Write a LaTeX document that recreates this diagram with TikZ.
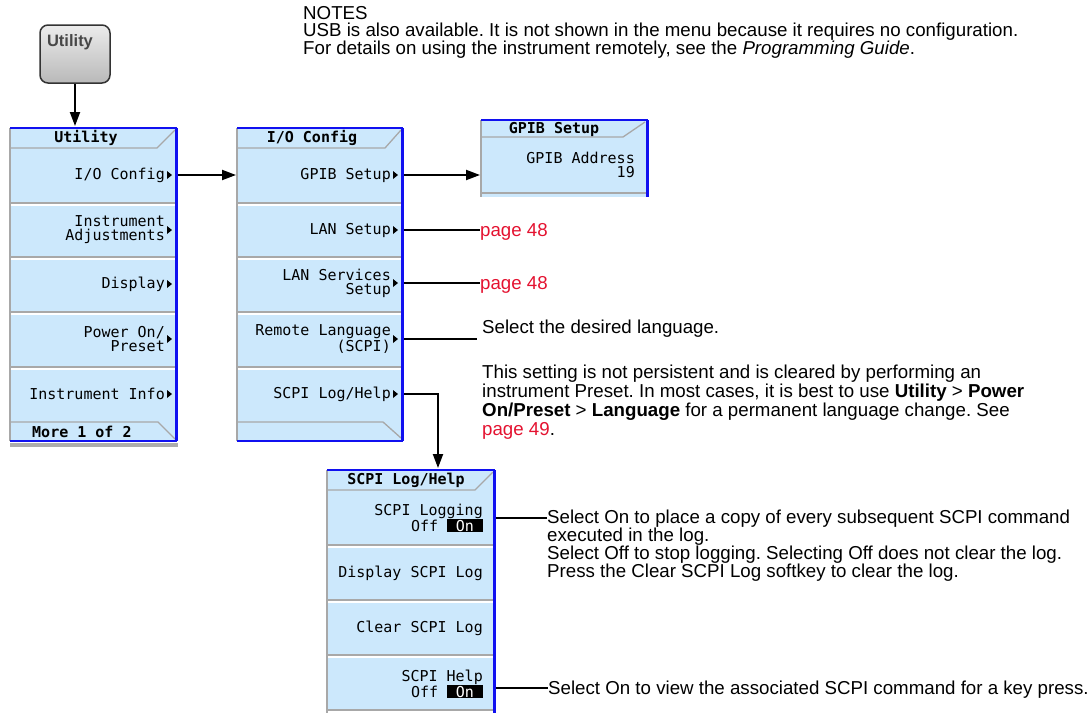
\documentclass[tikz,border=0pt]{standalone}
\usepackage{fontspec}
\setmainfont{Liberation Sans}
\newfontfamily\keyfont{DejaVu Sans Mono}
\usetikzlibrary{arrows.meta}
\frenchspacing

\definecolor{keyblue}{RGB}{204,232,252}
\definecolor{frameblue}{RGB}{16,16,240}
\definecolor{sepgray}{RGB}{168,168,168}
\definecolor{refred}{RGB}{228,18,48}

\newcommand{\onbox}{{\setlength{\fboxsep}{0.8pt}\colorbox{black}{\textcolor{white}{\hspace{8pt}On\hspace{8pt}}}}}

\tikzset{
  keytext/.style={font=\keyfont\fontsize{15}{14}\selectfont, align=right, inner sep=0pt, anchor=east},
  titletext/.style={font=\keyfont\bfseries\fontsize{15}{14}\selectfont, inner sep=0pt},
  notetext/.style={font=\fontsize{18.7}{18}\selectfont, align=left, inner sep=0pt, anchor=north west},
  reftext/.style={font=\fontsize{18.7}{18}\selectfont, text=refred, inner sep=0pt, anchor=base west},
  conn/.style={line width=2},
  arr/.style={line width=2, -{Triangle[length=14pt,width=10pt]}},
  sep/.style={sepgray, line width=1.3},
  hilite/.style={white, line width=1.3},
}

\begin{document}
\begin{tikzpicture}[x=1pt,y=-1pt]
    \useasboundingbox (0,0) rectangle (1090,713);

    % front panel key
    \node[draw=black!80, line width=1.5, rounded corners=8, top color=gray!15, bottom color=gray!55,
          minimum width=70, minimum height=58, inner sep=0pt] (btn) at (75,54) {};
    \node[font=\bfseries\fontsize{16.5}{16.5}\selectfont, text=black!72, inner sep=0pt] (btn-label) at (70,42) {Utility};

    % Utility menu
    \fill[keyblue] (10,128) rectangle (177,441);
    \foreach \y in {203,257,312,367}{
        \draw[sep] (11,\y) -- (176,\y);
        \draw[hilite] (11,\y+2) -- (175,\y+2);
    }
    \draw[sep] (11,148) -- (157,148) -- (175,130);
    \draw[sep] (11,422) -- (158,422) -- (175,439);
    \draw[sepgray, line width=2] (10,128) -- (10,441);
    \draw[frameblue, line width=2] (10,128) -- (177,128);
    \draw[frameblue, line width=3] (176,128) -- (176,441);
    \draw[frameblue, line width=2.5] (10,441) -- (177,441);
    \fill[gray!65] (10,443) rectangle (178,447);
    \foreach \y in {175,230,284,339,394}
        \fill (167,\y-4) -- (172,\y) -- (167,\y+4) -- cycle;

    \node[titletext] (util-title) at (86,138) {Utility};
    \node[keytext] (util-io) at (165,175) {I/O Config};
    \node[keytext] (util-adj) at (165,230) {Instrument\\Adjustments};
    \node[keytext] (util-disp) at (165,284) {Display};
    \node[keytext] (util-pwr) at (165,339) {Power On/\\Preset};
    \node[keytext] (util-info) at (165,394) {Instrument Info};
    \node[titletext, anchor=west] (util-more) at (32,432) {More 1 of 2};
    \coordinate (util-in) at (75,126);
    \coordinate (util-io-r) at (178,175);

    % I/O Config menu
    \fill[keyblue] (237,128) rectangle (403,441);
    \foreach \y in {203,257,312,367}{
        \draw[sep] (238,\y) -- (402,\y);
        \draw[hilite] (238,\y+2) -- (401,\y+2);
    }
    \draw[sep] (238,148) -- (385,148) -- (401,130);
    \draw[sep] (238,422) -- (383,422) -- (401,438);
    \draw[sepgray, line width=2] (237,128) -- (237,441);
    \draw[frameblue, line width=2] (237,128) -- (403,128);
    \draw[frameblue, line width=3] (402,128) -- (402,441);
    \draw[frameblue, line width=2.5] (237,441) -- (403,441);
    \foreach \y in {175,230,283,339,394}
        \fill (393,\y-4) -- (398,\y) -- (393,\y+4) -- cycle;

    \node[titletext] (io-title) at (312,138) {I/O Config};
    \node[keytext] (io-gpib) at (391,175) {GPIB Setup};
    \node[keytext] (io-lan) at (391,230) {LAN Setup};
    \node[keytext] (io-svc) at (391,283) {LAN Services\\Setup};
    \node[keytext] (io-lang) at (391,339) {Remote Language\\(SCPI)};
    \node[keytext] (io-scpi) at (391,394) {SCPI Log/Help};
    \coordinate (io-in) at (236,175);
    \coordinate (io-gpib-r) at (404,175);
    \coordinate (io-lan-r) at (404,230);
    \coordinate (io-svc-r) at (404,283);
    \coordinate (io-lang-r) at (404,339);
    \coordinate (io-scpi-r) at (404,394);

    % GPIB Setup menu
    \fill[keyblue] (481,120) rectangle (648,197);
    \draw[sep] (482,137) -- (623,137) -- (645,122);
    \draw[sep] (482,193) -- (647,193);
    \draw[sepgray, line width=2] (481,120) -- (481,197);
    \draw[frameblue, line width=2] (481,120) -- (648,120);
    \draw[frameblue, line width=3] (647,120) -- (647,197);
    \node[titletext] (gpib-title) at (554,129) {GPIB Setup};
    \node[keytext] (gpib-addr) at (635,165) {GPIB Address\\19};
    \coordinate (gpib-in) at (480,175);

    % SCPI Log/Help menu
    \fill[keyblue] (327,470) rectangle (495,713);
    \foreach \y in {545,600,655,710}{
        \draw[sep] (328,\y) -- (494,\y);
        \draw[hilite] (328,\y+2) -- (493,\y+2);
    }
    \draw[sep] (328,490) -- (475,490) -- (493,472);
    \draw[sepgray, line width=2] (327,470) -- (327,713);
    \draw[frameblue, line width=2] (327,470) -- (495,470);
    \draw[frameblue, line width=3] (494,470) -- (494,713);
    \node[titletext] (scpi-title) at (406,480) {SCPI Log/Help};
    \node[keytext] (scpi-log) at (483,518) {SCPI Logging\\Off \onbox};
    \node[keytext] (scpi-disp) at (483,573) {Display SCPI Log};
    \node[keytext] (scpi-clear) at (483,628) {Clear SCPI Log};
    \node[keytext] (scpi-help) at (483,684) {SCPI Help\\Off \onbox};
    \coordinate (scpi-in) at (438,468);
    \coordinate (scpi-log-r) at (496,518);
    \coordinate (scpi-help-r) at (496,688);

    % notes
    \node[notetext, font=\fontsize{18.7}{17.5}\selectfont] (notes) at (303,6) {NOTES\\USB is also available. It is not shown in the menu because it requires no configuration.\\For details on using the instrument remotely, see the \textit{Programming Guide}.};
    \node[reftext] (lan-ref) at (480,236.7) {page 48};
    \node[reftext] (svc-ref) at (480,289.7) {page 48};
    \node[notetext] (lang-note) at (482,320) {Select the desired language.};
    \node[notetext, font=\fontsize{18.7}{18.8}\selectfont] (preset-note) at (482,365) {This setting is not persistent and is cleared by performing an\\instrument Preset. In most cases, it is best to use \textbf{Utility} > \textbf{Power}\\\textbf{On/Preset} > \textbf{Language} for a permanent language change. See\\\textcolor{refred}{page 49}.};
    \node[notetext] (log-note) at (547,510) {Select On to place a copy of every subsequent SCPI command\\executed in the log.\\Select Off to stop logging. Selecting Off does not clear the log.\\Press the Clear SCPI Log softkey to clear the log.};
    \node[notetext, anchor=base west] (help-note) at (548,694.7) {Select On to view the associated SCPI command for a key press.};
    \coordinate (lang-end) at (477,339);

    % connectors
    \draw[arr] (btn.south) -- (btn.south |- util-in);
    \draw[arr] (util-io-r) -- (io-in);
    \draw[arr] (io-gpib-r) -- (gpib-in);
    \draw[conn] (io-lan-r) -- (io-lan-r -| lan-ref.west);
    \draw[conn] (io-svc-r) -- (io-svc-r -| svc-ref.west);
    \draw[conn] (io-lang-r) -- (lang-end);
    \draw[arr] (io-scpi-r) -| (scpi-in);
    \draw[conn] (scpi-log-r) -- (scpi-log-r -| log-note.west);
    \draw[conn] (scpi-help-r) -- (scpi-help-r -| help-note.west);
\end{tikzpicture}
\end{document}
